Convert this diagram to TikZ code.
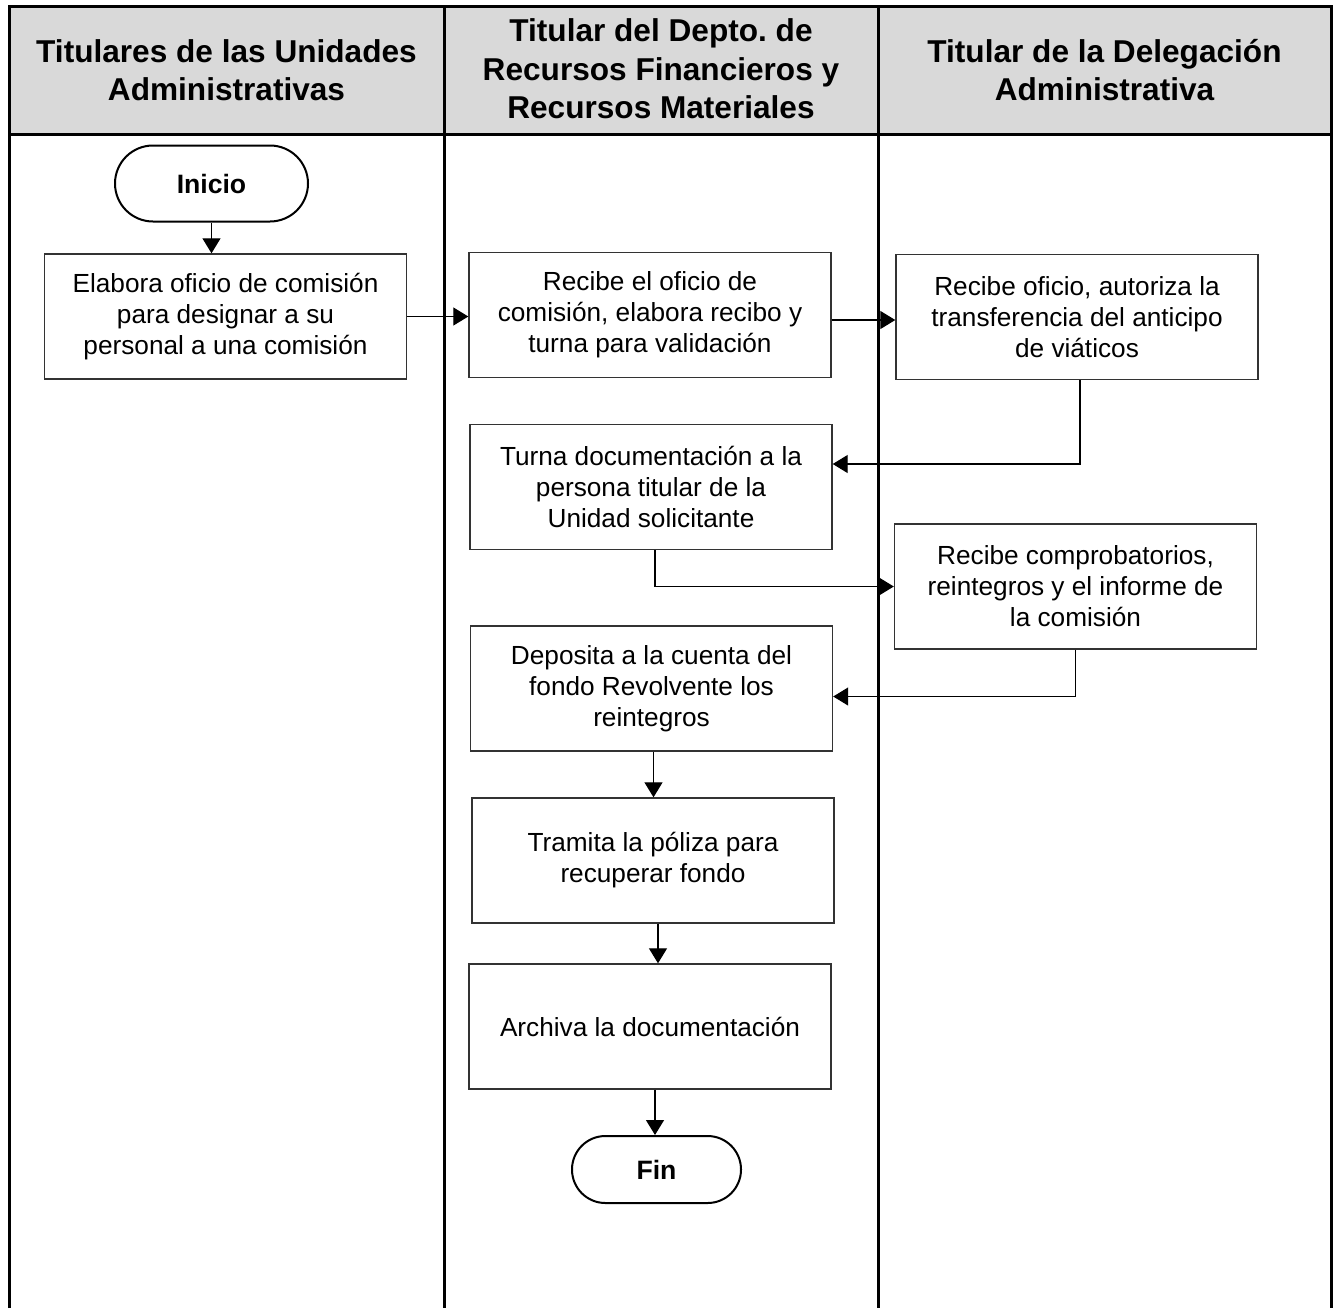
\documentclass[tikz,border=0pt]{standalone}
\usepackage{fontspec}
\setmainfont{Liberation Sans}
\usetikzlibrary{arrows.meta}
\frenchspacing

\tikzset{
  proc/.style={draw=black!80, line width=0.7pt, minimum width=181pt, minimum height=62.5pt,
    inner sep=0pt, align=center, font=\fontsize{13.1}{15.5}\selectfont},
  term/.style={draw=black, line width=1pt, inner sep=0pt, align=center,
    font=\fontsize{13.3}{15.5}\selectfont\bfseries},
  encab/.style={align=center, font=\fontsize{15.8}{19.3}\selectfont\bfseries},
  flecha/.style={-{Triangle[length=7.5pt,width=9pt]}, line width=0.6pt},
  carril/.style={line width=1.5pt}
}

\begin{document}
\begin{tikzpicture}[x=0.5pt,y=-0.5pt]
\useasboundingbox (0,0) rectangle (1333,1308);
%%%%%%%%%%%%%%%%%%%%%%%%%%%%%%%%%%%%%
% carriles
\fill[gray!30] (9,6) rectangle (1331,134);
\draw[carril] (9,1308) -- (9,6) -- (1331,6) -- (1331,1308);
\draw[carril] (9,134) -- (1331,134);
\draw[carril] (444,6) -- (444,1308);
\draw[carril] (878,6) -- (878,1308);
\node[encab] (h1) at (226.5,70) {Titulares de las Unidades\\Administrativas};
\node[encab] (h2) at (661,69) {Titular del Depto. de\\Recursos Financieros y\\Recursos Materiales};
\node[encab] (h3) at (1104.5,70) {Titular de la Delegación\\Administrativa};
%%%%%%%%%%%%%%%%%%%%%%%%%%%%%%%%%%%%%
% pasos
\node[term, minimum width=96.5pt, minimum height=38pt, rounded corners=19pt] (ini) at (211.5,183.5) {Inicio};
\node[proc] (elab) at (225.5,316.5) {Elabora oficio de comisión\\para designar a su\\personal a una comisión};
\node[proc] (recibe) at (650,315) {Recibe el oficio de\\comisión, elabora recibo y\\turna para validación};
\node[proc] (autoriza) at (1077,317) {Recibe oficio, autoriza la\\transferencia del anticipo\\de viáticos};
\node[proc] (turna) at (651,487) {Turna documentación a la\\persona titular de la\\Unidad solicitante};
\node[proc] (comprob) at (1075.5,586.5) {Recibe comprobatorios,\\reintegros y el informe de\\la comisión};
\node[proc] (deposita) at (651.5,688.5) {Deposita a la cuenta del\\fondo Revolvente los\\reintegros};
\node[proc] (tramita) at (653,860.5) {Tramita la póliza para\\recuperar fondo};
\node[proc] (archiva) at (650,1026.5) {Archiva la documentación};
\node[term, minimum width=84.5pt, minimum height=33.5pt, rounded corners=16.7pt] (fin) at (656.5,1169.5) {Fin};
%%%%%%%%%%%%%%%%%%%%%%%%%%%%%%%%%%%%%
% flechas
\draw[flecha] (ini.south) -- (ini.south |- elab.north);
\draw[flecha] (elab.east) -- (elab.east -| recibe.west);
\draw[flecha] ([yshift=-2.5pt]recibe.east) -- ([yshift=-2.5pt]recibe.east -| autoriza.west);
\draw[flecha] ([xshift=1.5pt]autoriza.south) |- ([yshift=11.5pt]turna.east);
\draw[flecha] ([xshift=2pt]turna.south) |- (comprob.west);
\draw[flecha] (comprob.south) |- ([yshift=-4pt]deposita.east);
\draw[flecha] ([xshift=1pt]deposita.south) -- ([xshift=1pt]deposita.south |- tramita.north);
\draw[flecha] ([xshift=2.5pt]tramita.south) -- ([xshift=2.5pt]tramita.south |- archiva.north);
\draw[flecha] ([xshift=2.5pt]archiva.south) -- ([xshift=2.5pt]archiva.south |- fin.north);
\end{tikzpicture}
\end{document}
